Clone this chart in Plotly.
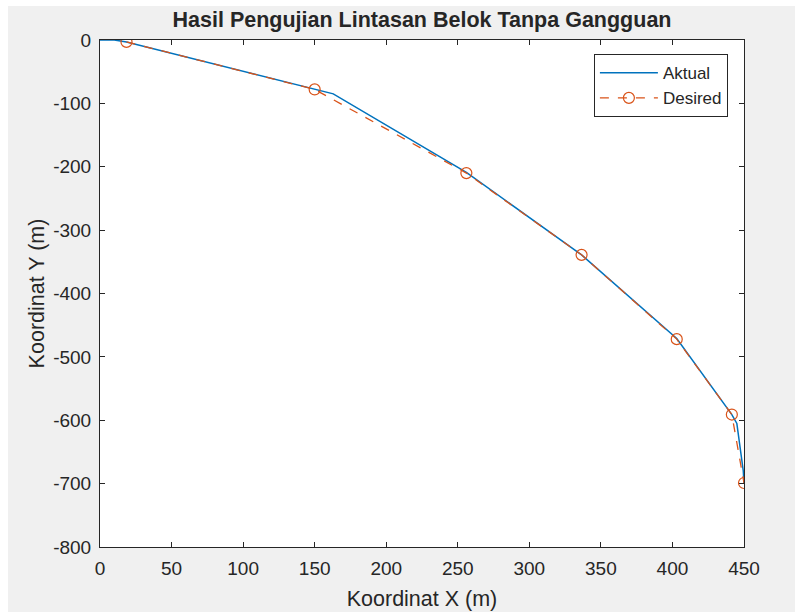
import plotly.graph_objects as go

# Waypoints of the desired turning path (m)
desired_x = [18.5, 150, 256, 336.5, 403, 441.5, 450]
desired_y = [-3, -78, -210, -339, -472, -591, -699]

# Actual trajectory followed by the vehicle (m)
actual_x = [0, 10, 18.5, 150, 163, 256, 336.5, 403, 441.5, 445, 449.5, 450]
actual_y = [0, 0, -3, -78, -85, -209, -339, -471, -591, -605, -680, -699]

x_ticks = [0, 50, 100, 150, 200, 250, 300, 350, 400, 450]
x_tick_labels = ["0", "50", "100", "150", "200", "250", "300", "350", "400", "450"]
y_ticks = [0, -100, -200, -300, -400, -500, -600, -700, -800]
y_tick_labels = ["0", "-100", "-200", "-300", "-400", "-500", "-600", "-700", "-800"]

BLUE = "#0072BD"
ORANGE = "#D95319"
FONT = "Liberation Sans, Arial, sans-serif"
INK = "#262626"

fig = go.Figure()
fig.add_trace(go.Scatter(
    x=actual_x, y=actual_y, mode="lines", name="Aktual",
    line=dict(color=BLUE, width=1.5),
))
fig.add_trace(go.Scatter(
    x=desired_x, y=desired_y, mode="lines+markers", name="Desired",
    line=dict(color=ORANGE, width=1.3, dash="dash"),
    marker=dict(symbol="circle-open", size=11, color=ORANGE, line=dict(width=1.2)),
))

axis_common = dict(
    showgrid=False, zeroline=False, showline=True, linecolor=INK, linewidth=1,
    mirror="ticks", ticks="inside", ticklen=5, tickcolor=INK, automargin=False,
    tickfont=dict(family=FONT, size=19, color=INK),
)

fig.update_layout(
    width=795, height=612,
    margin=dict(l=100, r=51, t=40, b=65),
    paper_bgcolor="#f0f0f0", plot_bgcolor="white",
    font=dict(family=FONT, color=INK),
    title=dict(text="<b>Hasil Pengujian Lintasan Belok Tanpa Gangguan</b>",
               x=0.5, xref="paper", xanchor="center",
               y=1 - 19 / 612, yref="container", yanchor="middle",
               font=dict(family=FONT, size=21.5, color=INK)),
    xaxis=dict(range=[0, 450], tickvals=x_ticks, ticktext=x_tick_labels,
               ticklabelstandoff=4,
               title=dict(text="Koordinat X (m)", standoff=13,
                          font=dict(family=FONT, size=21.5, color=INK)),
               **axis_common),
    yaxis=dict(range=[-800, 0], tickvals=y_ticks, ticktext=y_tick_labels,
               ticklabelstandoff=4,
               title=dict(text="Koordinat Y (m)", standoff=2,
                          font=dict(family=FONT, size=21.5, color=INK)),
               **axis_common),
    legend=dict(x=0.975, xanchor="right", y=0.972, yanchor="top",
                bgcolor="white", bordercolor=INK, borderwidth=1,
                font=dict(family=FONT, size=17, color=INK),
                tracegroupgap=0, itemwidth=58),
    showlegend=True,
    shapes=[
        # thin white strips along the left and top edges of the window
        dict(type="rect", xref="paper", yref="paper",
             x0=-100 / 644, x1=-92 / 644, y0=-0.2, y1=1.2,
             fillcolor="white", line=dict(width=0), layer="below"),
        dict(type="rect", xref="paper", yref="paper",
             x0=-0.2, x1=1.2, y0=541 / 507, y1=1.2,
             fillcolor="white", line=dict(width=0), layer="below"),
    ],
)

fig.write_html("out.html")
